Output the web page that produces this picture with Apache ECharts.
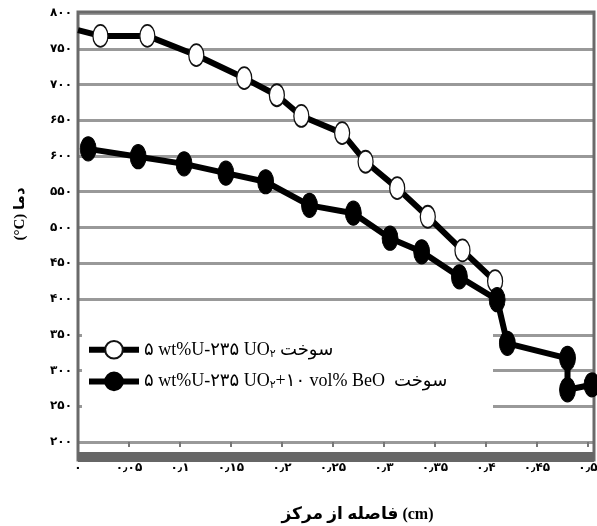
<!DOCTYPE html>
<html><head><meta charset="utf-8">
<script src="https://cdn.jsdelivr.net/npm/echarts@6/dist/echarts.min.js"></script>
<style>html,body{margin:0;padding:0;background:#fff}#c{width:597px;height:526px}</style>
</head><body><div id="c"></div>
<script>
// ---- data ----
const seriesNames = ['۵ wt%U-۲۳۵ UO۲ سوخت', '۵ wt%U-۲۳۵ UO۲+۱۰ vol% BeO  سوخت'];
const uo2X = [0, 0.022, 0.068, 0.116, 0.163, 0.195, 0.219, 0.259, 0.282, 0.313, 0.343, 0.377, 0.409];
const uo2Y = [776, 768, 768, 741, 709, 685, 656, 632, 592, 555, 515, 468, 425];
const beoX = [0.010, 0.059, 0.104, 0.145, 0.184, 0.227, 0.270, 0.306, 0.337, 0.374, 0.411, 0.421, 0.480, 0.480, 0.504];
const beoY = [610, 599, 589, 576, 564, 531, 520, 485, 466, 431, 399, 338, 317, 273, 280];
const xTickValues = [0, 0.05, 0.1, 0.15, 0.2, 0.25, 0.3, 0.35, 0.4, 0.45, 0.5];
const xTickLabels = ['۰', '۰٫۰۵', '۰٫۱', '۰٫۱۵', '۰٫۲', '۰٫۲۵', '۰٫۳', '۰٫۳۵', '۰٫۴', '۰٫۴۵', '۰٫۵'];
const yTickValues = [200, 250, 300, 350, 400, 450, 500, 550, 600, 650, 700, 750, 800];
const yTickLabels = ['۲۰۰', '۲۵۰', '۳۰۰', '۳۵۰', '۴۰۰', '۴۵۰', '۵۰۰', '۵۵۰', '۶۰۰', '۶۵۰', '۷۰۰', '۷۵۰', '۸۰۰'];
const xTitleWords = 'فاصله از مرکز';
const xTitleUnit = '(cm)';
const yTitle = '(°C) دما';

// ---- chart ----
const FONT = "'Liberation Serif','DejaVu Sans',serif";
const LRM = '\u200E';
const chart = echarts.init(document.getElementById('c'), null, {renderer: 'canvas'});

function lookup(values, labels, v) {
  for (let i = 0; i < values.length; i++) if (Math.abs(values[i] - v) < 1e-6) return labels[i];
  return '';
}
function legendRich(name) {
  const k = name.indexOf('UO۲');
  return '{a|' + name.slice(0, k) + 'UO}{s|۲}{a|' + name.slice(k + 3) + '}';
}

const option = {
  animation: false,
  backgroundColor: '#fff',
  grid: {left: 78, right: 4, top: 13, bottom: 84, containLabel: false, outerBoundsMode: 'none'},
  xAxis: {
    type: 'value', min: 0, max: 0.505, interval: 0.05,
    axisLine: {show: false},
    axisTick: {show: true, length: 5, lineStyle: {color: '#777', width: 2}},
    splitLine: {show: false},
    axisLabel: {
      margin: 20, showMaxLabel: false, color: '#000',
      fontFamily: FONT, fontSize: 12, fontWeight: 'bold',
      formatter: v => lookup(xTickValues, xTickLabels, v)
    },
    name: '{w|' + LRM + xTitleWords + '}{u|' + LRM + ' ' + xTitleUnit + '}',
    nameLocation: 'middle', nameGap: 64,
    nameTextStyle: {
      padding: [0, 0, 0, 44],
      rich: {
        w: {fontFamily: FONT, fontSize: 17, fontWeight: 'bold', color: '#000'},
        u: {fontFamily: FONT, fontSize: 16, fontWeight: 'bold', color: '#000'}
      }
    }
  },
  yAxis: {
    type: 'value', min: 200, max: 800, interval: 50,
    axisLine: {show: false}, axisTick: {show: false},
    splitLine: {show: true, lineStyle: {color: '#999', width: 3}},
    axisLabel: {
      margin: 6, color: '#000', fontFamily: FONT, fontSize: 12, fontWeight: 'bold',
      padding: [5, 0, 0, 0],
      formatter: v => lookup(yTickValues, yTickLabels, v)
    }
  },
  legend: {
    orient: 'vertical', left: 86, top: 340, padding: 0,
    itemWidth: 50, itemHeight: 22, itemGap: 12, selectedMode: false,
    lineStyle: {width: 6},
    formatter: legendRich,
    textStyle: {
      color: '#000',
      rich: {
        a: {fontFamily: FONT, fontSize: 18, color: '#000'},
        s: {fontFamily: FONT, fontSize: 11, color: '#000', padding: [8, 0, 0, 0]}
      }
    },
    data: seriesNames
  },
  graphic: [
    {type: 'rect', z: 1, shape: {x: 82, y: 314, width: 411, height: 112}, style: {fill: '#fff'}},
    {type: 'rect', z: 1, shape: {x: 78, y: 12, width: 516, height: 448}, style: {fill: 'none', stroke: '#6a6a6a', lineWidth: 3}},
    {type: 'rect', z: 1, shape: {x: 78, y: 452, width: 516, height: 10}, style: {fill: '#666'}},
    {type: 'text', z: 5, x: 20, y: 214, rotation: Math.PI / 2,
     style: {text: yTitle, font: "bold 15px 'Liberation Serif','DejaVu Sans',serif", fill: '#000', align: 'center', verticalAlign: 'middle'}}
  ],
  series: [
    {
      type: 'line', name: seriesNames[0], clip: false,
      data: uo2X.map((x, i) => i === 0 ? {value: [x, uo2Y[i]], symbol: 'none'} : [x, uo2Y[i]]),
      symbol: 'circle', symbolSize: [15, 22], showAllSymbol: true,
      itemStyle: {color: '#fff', borderColor: '#111', borderWidth: 1.5},
      lineStyle: {color: '#000', width: 6}
    },
    {
      type: 'line', name: seriesNames[1], clip: false,
      data: beoX.map((x, i) => [x, beoY[i]]),
      symbol: 'circle', symbolSize: [16, 24], showAllSymbol: true,
      itemStyle: {color: '#000', borderColor: '#000', borderWidth: 1},
      lineStyle: {color: '#000', width: 6}
    }
  ]
};
chart.setOption(option);
</script></body></html>
